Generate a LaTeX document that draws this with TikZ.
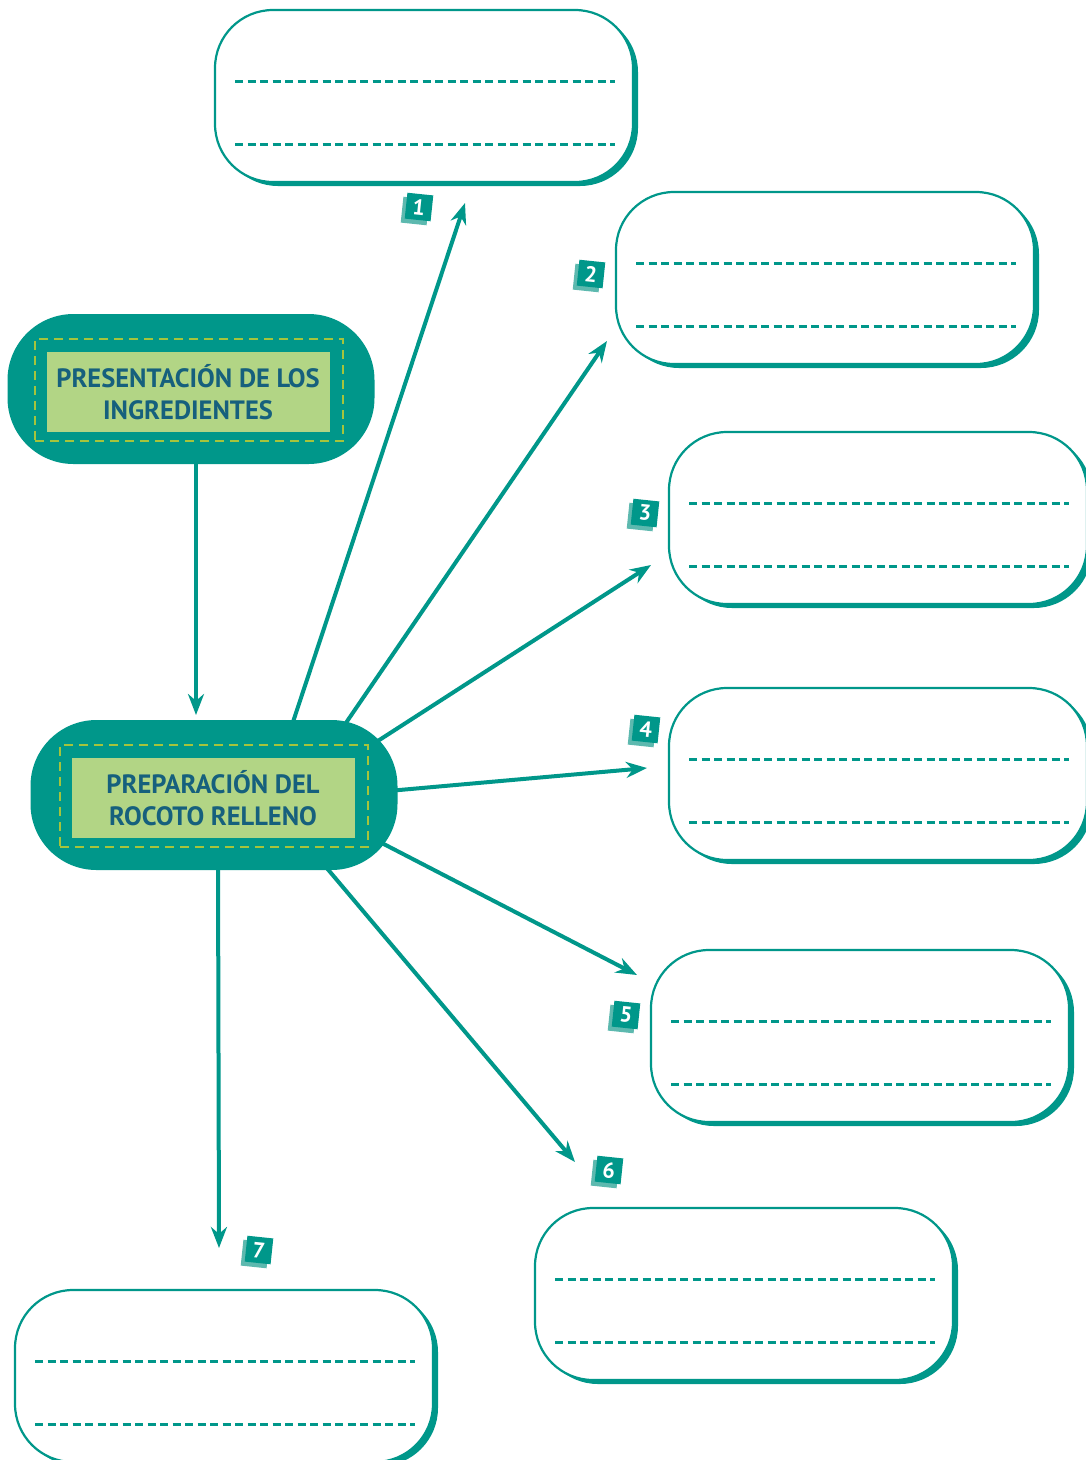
\documentclass[tikz,border=0pt]{standalone}
\usepackage{fontspec}
\setmainfont{PT Sans}
\usetikzlibrary{arrows.meta,calc,backgrounds}
\definecolor{mapteal}{HTML}{00978A}
\definecolor{lightteal}{HTML}{5DB9AF}
\definecolor{labelgreen}{HTML}{B2D585}
\definecolor{stitch}{HTML}{A5C43C}
\definecolor{inkblue}{HTML}{16607D}
\tikzset{
  blob/.style={fill=mapteal, rounded corners=66pt, minimum width=367pt, minimum height=150pt},
  stitchframe/.style={draw=stitch, line width=2.4pt, dash pattern=on 9pt off 6pt, minimum width=308pt, minimum height=102pt},
  labelbox/.style={fill=labelgreen, minimum width=283pt, minimum height=80pt, inner sep=0pt, text=inkblue, align=center, font=\bfseries\fontsize{26.5}{32}\selectfont},
  answerbox/.style={draw=mapteal, line width=2.2pt, fill=white, rounded corners=58pt, minimum width=418pt, minimum height=172pt},
  boxshadow/.style={fill=mapteal, rounded corners=58pt, minimum width=418pt, minimum height=172pt},
  writeline/.style={draw=mapteal, line width=3pt, dash pattern=on 8pt off 4.5pt},
  badge/.style={fill=mapteal, minimum size=26pt, inner sep=0pt, rotate=-6, text=white, font=\bfseries\fontsize{22}{22}\selectfont},
  badgeshadow/.style={fill=lightteal, minimum size=26pt, rotate=-6},
  arrowline/.style={draw=mapteal, line width=4pt, -{Stealth[length=21pt,width=16pt]}}
}
\begin{document}
\begin{tikzpicture}[x=1pt, y=-1pt]
  \useasboundingbox (0,0) rectangle (1086,1460);
  % answer boxes with their writing lines
  \foreach \n/\x/\y in {1/424/96, 2/825/278, 3/878/518, 4/878/774, 5/860/1036, 6/744/1294, 7/224/1376}{
    \node[boxshadow] at ($(\x,\y)+(5,4)$) {};
    \node[answerbox] (box\n) at (\x,\y) {};
    \draw[writeline] ($(box\n.center)+(-189,-15)$) -- ($(box\n.center)+(191,-15)$);
    \draw[writeline] ($(box\n.center)+(-189,48)$) -- ($(box\n.center)+(191,48)$);
  }
  % step numbers
  \foreach \n/\x/\y in {1/419/207, 2/591/274, 3/645/513, 4/646/729, 5/626/1015, 6/609/1170, 7/259/1250}{
    \node[badgeshadow] at ($(\x,\y)+(-4,4)$) {};
    \node[badge] (num\n) at (\x,\y) {\n};
  }
  % the two main blobs
  \node[blob] (pres) at (191,389) {};
  \node[stitchframe] (presframe) at (189,390) {};
  \node[labelbox] (prestext) at (188,392) {PRESENTACIÓN DE LOS\\INGREDIENTES};
  \node[blob] (prep) at (214,795) {};
  \node[stitchframe] (prepframe) at (214,796) {};
  \node[labelbox] (preptext) at (213,798) {PREPARACIÓN DEL\\ROCOTO RELLENO};
  % arrows
  \coordinate (tip0) at (196,715);
  \draw[arrowline] (pres.south -| tip0) -- (tip0);
  \begin{pgfonlayer}{background}
    \foreach \n/\dx/\dy/\tx/\ty in {1/76/-64/465/203, 2/123/-59/607/341, 3/156/-49/651/565,
        4/174/-4/647/768, 5/162/45/637/975, 6/106/65/575/1162, 7/4/65/219/1248}{
      \coordinate (tip\n) at (\tx,\ty);
      \draw[arrowline] ($(prep.center)+(\dx,\dy)$) -- (tip\n);
    }
  \end{pgfonlayer}
\end{tikzpicture}
\end{document}
